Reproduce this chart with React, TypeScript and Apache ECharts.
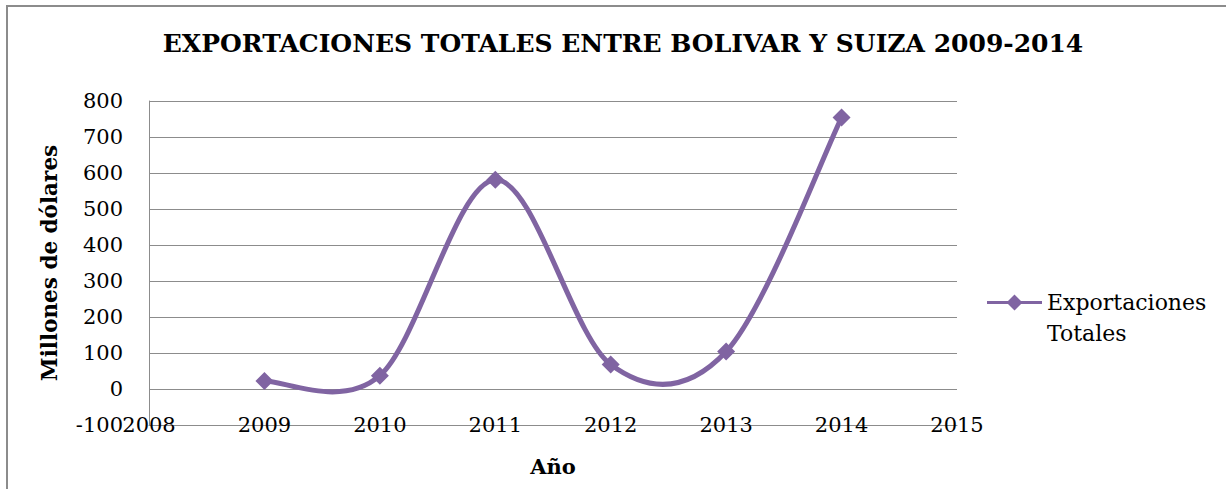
import React, { useEffect, useRef } from "react";
import * as echarts from "echarts";

const years = [2009, 2010, 2011, 2012, 2013, 2014];
const exportaciones = [22, 37, 581, 68, 104, 754];
const xTicks = [2008, 2009, 2010, 2011, 2012, 2013, 2014, 2015];
const yTicks = [-100, 0, 100, 200, 300, 400, 500, 600, 700, 800];
const seriesName = "Exportaciones Totales";

const FONT = "'DejaVu Serif', serif";
const PURPLE = "#8064A2";
const GRID = "#8C8C8C";

export default function App() {
  const ref = useRef<HTMLDivElement>(null);
  useEffect(() => {
    if (!ref.current) return;
    const chart = echarts.init(ref.current, undefined, { renderer: "svg" });
    const n = years.length;
    const pointData = years.map((y, i) => [y, exportaciones[i]]);
    chart.setOption({
      animation: false,
      backgroundColor: "#fff",
      title: {
        text: "EXPORTACIONES TOTALES ENTRE BOLIVAR Y SUIZA 2009-2014",
        left: 618,
        textAlign: "center",
        top: 26,
        textStyle: { fontFamily: FONT, fontWeight: "bold", fontSize: 25, color: "#000" },
      },
      legend: {
        left: 987,
        top: 256,
        padding: 0,
        itemWidth: 55,
        itemHeight: 16,
        itemGap: 0,
        icon: "path://M0 6.5H55V9.5H0Z M19.5 8L27.5 0L35.5 8L27.5 16Z",
        formatter: () => " \nExportaciones\nTotales",
        textStyle: { fontFamily: FONT, fontSize: 22, color: "#000", lineHeight: 31 },
        data: [{ name: seriesName, itemStyle: { color: PURPLE } }],
      },
      grid: { left: 149, top: 101, right: 269, bottom: 64 },
      xAxis: {
        type: "value",
        min: xTicks[0],
        max: xTicks[xTicks.length - 1],
        interval: 1,
        name: "Año",
        nameLocation: "middle",
        nameGap: 31,
        nameTextStyle: { fontFamily: FONT, fontWeight: "bold", fontSize: 21, color: "#000" },
        axisLine: { show: true, onZero: false, lineStyle: { color: GRID, width: 1 } },
        axisTick: { show: false },
        splitLine: { show: false },
        axisLabel: {
          margin: 0,
          verticalAlign: "middle",
          fontFamily: FONT,
          fontSize: 21,
          color: "#000",
          formatter: (v: number) => (xTicks.includes(v) ? String(v) : ""),
        },
      },
      yAxis: {
        type: "value",
        min: yTicks[0],
        max: yTicks[yTicks.length - 1],
        interval: 100,
        name: "Millones de dólares",
        nameLocation: "middle",
        nameRotate: 90,
        nameGap: 89,
        nameTextStyle: { fontFamily: FONT, fontWeight: "bold", fontSize: 21.5, color: "#000" },
        axisLine: { show: true, lineStyle: { color: GRID, width: 1 } },
        axisTick: { show: false },
        splitLine: { show: true, lineStyle: { color: GRID, width: 1 } },
        axisLabel: {
          margin: 26,
          fontFamily: FONT,
          fontSize: 21,
          color: "#000",
          formatter: (v: number) => (yTicks.includes(v) ? String(v) : ""),
        },
      },
      series: [
        {
          name: seriesName,
          type: "custom",
          data: pointData,
          itemStyle: { color: PURPLE },
          z: 2,
          renderItem: (params: any, api: any) => {
            const i = params.dataIndex;
            if (i >= n - 1) return { type: "group", children: [] };
            const pt = (k: number) => {
              const j = Math.max(0, Math.min(n - 1, k));
              return api.coord([years[j], exportaciones[j]]);
            };
            const p0 = pt(i - 1);
            const p1 = pt(i);
            const p2 = pt(i + 1);
            const p3 = pt(i + 2);
            return {
              type: "bezierCurve",
              shape: {
                x1: p1[0],
                y1: p1[1],
                x2: p2[0],
                y2: p2[1],
                cpx1: p1[0] + (p2[0] - p0[0]) / 6,
                cpy1: p1[1] + (p2[1] - p0[1]) / 6,
                cpx2: p2[0] - (p3[0] - p1[0]) / 6,
                cpy2: p2[1] - (p3[1] - p1[1]) / 6,
              },
              style: { stroke: PURPLE, lineWidth: 5, fill: "none", lineCap: "round" },
            };
          },
        },
        {
          name: seriesName,
          type: "scatter",
          data: pointData,
          symbol: "diamond",
          symbolSize: 18,
          itemStyle: { color: PURPLE, opacity: 1 },
          z: 3,
        },
      ],
    });
    return () => chart.dispose();
  }, []);
  return (
    <div style={{ position: "fixed", left: 0, top: 0, width: 1226, height: 489, background: "#fff" }}>
      <div ref={ref} style={{ width: 1226, height: 489 }} />
      <div
        style={{
          position: "absolute",
          left: 6,
          top: 5,
          width: 1300,
          height: 600,
          border: "2px solid #8C8C8C",
          pointerEvents: "none",
        }}
      />
    </div>
  );
}
